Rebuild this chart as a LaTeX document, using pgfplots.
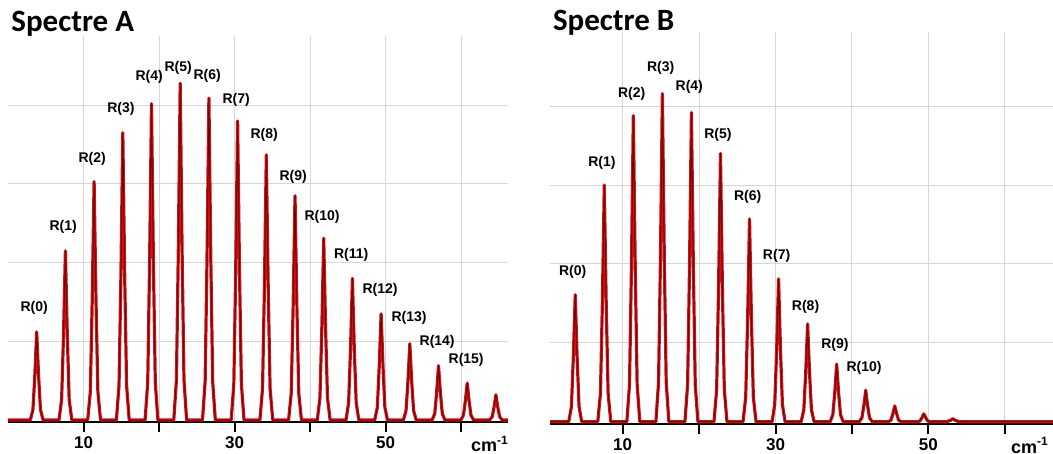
\documentclass[border=0pt]{standalone}
\usepackage{fontspec}
\setmainfont{Liberation Sans}
\newfontfamily\titlefont{Carlito}
\usepackage{pgfplots}
\usepackage{pgfplotstable}
\pgfplotsset{compat=1.18}

\definecolor{specred}{RGB}{205,20,24}
\definecolor{speccore}{RGB}{120,0,0}
\definecolor{gridgray}{RGB}{214,214,214}

% spectre A : x (cm-1), intensite
\pgfplotstableread{
x y
0 0
2.95 0
3.3 0.13
3.55 0.56
3.8 1.12
4.05 0.56
4.3 0.13
4.65 0
6.75 0
7.1 0.26
7.35 1.08
7.6 2.15
7.85 1.08
8.1 0.26
8.45 0
10.55 0
10.9 0.36
11.15 1.52
11.4 3.03
11.65 1.52
11.9 0.36
12.25 0
14.35 0
14.7 0.44
14.95 1.83
15.2 3.65
15.45 1.83
15.7 0.44
16.05 0
18.15 0
18.5 0.48
18.75 2.01
19.0 4.02
19.25 2.01
19.5 0.48
19.85 0
21.95 0
22.3 0.51
22.55 2.14
22.8 4.28
23.05 2.14
23.3 0.51
23.65 0
25.75 0
26.1 0.49
26.35 2.05
26.6 4.09
26.85 2.05
27.1 0.49
27.45 0
29.55 0
29.9 0.46
30.15 1.90
30.4 3.80
30.65 1.90
30.9 0.46
31.25 0
33.35 0
33.7 0.40
33.95 1.69
34.2 3.37
34.45 1.69
34.7 0.40
35.05 0
37.15 0
37.5 0.34
37.75 1.43
38.0 2.85
38.25 1.43
38.5 0.34
38.85 0
40.95 0
41.3 0.28
41.55 1.16
41.8 2.31
42.05 1.16
42.3 0.28
42.65 0
44.75 0
45.1 0.22
45.35 0.90
45.6 1.80
45.85 0.90
46.1 0.22
46.45 0
48.55 0
48.9 0.16
49.15 0.68
49.4 1.35
49.65 0.68
49.9 0.16
50.25 0
52.35 0
52.7 0.12
52.95 0.49
53.2 0.97
53.45 0.49
53.7 0.12
54.05 0
56.15 0
56.5 0.08
56.75 0.35
57.0 0.69
57.25 0.35
57.5 0.08
57.85 0
59.95 0
60.3 0.06
60.55 0.24
60.8 0.47
61.05 0.24
61.3 0.06
61.65 0
63.75 0
64.1 0.04
64.35 0.16
64.6 0.32
64.85 0.16
65.1 0.04
65.45 0
66.2 0
}\specA

\pgfplotstableread{
x y lab
3.47 1.42 R(0)
7.31 2.45 R(1)
11.15 3.32 R(2)
14.95 3.96 R(3)
18.69 4.36 R(4)
22.53 4.47 R(5)
26.37 4.37 R(6)
30.21 4.07 R(7)
33.91 3.62 R(8)
37.75 3.09 R(9)
41.59 2.58 R(10)
45.43 2.10 R(11)
49.27 1.66 R(12)
53.11 1.30 R(13)
56.82 0.99 R(14)
60.66 0.76 R(15)
}\labA

% spectre B
\pgfplotstableread{
x y
0.5 0
2.95 0
3.3 0.19
3.55 0.81
3.8 1.61
4.05 0.81
4.3 0.19
4.65 0
6.75 0
7.1 0.36
7.35 1.50
7.6 3.00
7.85 1.50
8.1 0.36
8.45 0
10.55 0
10.9 0.47
11.15 1.94
11.4 3.88
11.65 1.94
11.9 0.47
12.25 0
14.35 0
14.7 0.50
14.95 2.08
15.2 4.16
15.45 2.08
15.7 0.50
16.05 0
18.15 0
18.5 0.47
18.75 1.96
19.0 3.92
19.25 1.96
19.5 0.47
19.85 0
21.95 0
22.3 0.41
22.55 1.70
22.8 3.40
23.05 1.70
23.3 0.41
23.65 0
25.75 0
26.1 0.31
26.35 1.29
26.6 2.57
26.85 1.29
27.1 0.31
27.45 0
29.55 0
29.9 0.22
30.15 0.91
30.4 1.81
30.65 0.91
30.9 0.22
31.25 0
33.35 0
33.7 0.15
33.95 0.62
34.2 1.24
34.45 0.62
34.7 0.15
35.05 0
37.15 0
37.5 0.09
37.75 0.37
38.0 0.73
38.25 0.37
38.5 0.09
38.85 0
40.95 0
41.3 0.05
41.55 0.20
41.8 0.40
42.05 0.20
42.3 0.05
42.65 0
44.75 0
45.1 0.02
45.35 0.10
45.6 0.20
45.85 0.10
46.1 0.02
46.45 0
48.55 0
48.9 0.01
49.15 0.05
49.4 0.10
49.65 0.05
49.9 0.01
50.25 0
52.35 0
52.95 0.02
53.2 0.04
53.45 0.02
54.05 0
66.3 0
}\specB

\pgfplotstableread{
x y lab
3.47 1.90 R(0)
7.30 3.28 R(1)
11.18 4.15 R(2)
14.98 4.48 R(3)
18.72 4.24 R(4)
22.47 3.63 R(5)
26.35 2.85 R(6)
30.14 2.10 R(7)
33.93 1.46 R(8)
37.77 0.98 R(9)
41.59 0.68 R(10)
}\labB

\pgfplotsset{
  spec/.style={
    scale only axis, anchor=south west,
    axis lines*=left,
    x axis line style={black, line width=1pt, -},
    y axis line style={draw=none},
    xtick={10,20,30,40,50,60},
    xticklabels={10,,30,,50,},
    ytick={1,2,3,4}, yticklabels={},
    ytick style={draw=none},
    xtick style={black, line width=1pt},
    major tick length=5pt, tick align=outside,
    grid=major,
    major grid style={gridgray, line width=0.5pt},
    /pgf/number format/assume math mode=true,
    xticklabel style={font=\bfseries\fontsize{8.5}{10}\selectfont, yshift=1pt},
    clip=false,
  },
  curve/.style={specred, line width=1.6pt, line join=round},
  core/.style={speccore, line width=0.5pt, line join=round},
  labs/.style={draw=none, mark=none, nodes near coords, point meta=explicit symbolic,
    every node near coord/.style={anchor=center, inner sep=0pt,
      font=\bfseries\fontsize{7}{8}\selectfont}},
}

\begin{document}
\begin{tikzpicture}
\path[use as bounding box] (0,0) rectangle (526.5pt,227pt);

\begin{axis}[spec, at={(4pt,16pt)}, width=250pt, height=193pt,
  xmin=0, xmax=66.2, ymin=-0.025, ymax=4.88]
\addplot[curve] table[x=x, y=y] {\specA};
\addplot[core] table[x=x, y=y] {\specA};
\addplot[labs] table[x=x, y=y, meta=lab] {\labA};
\node[font=\bfseries\fontsize{9}{10}\selectfont] at (rel axis cs:0.964,0) [yshift=-11pt] {cm\textsuperscript{-1}};
\end{axis}

\begin{axis}[spec, at={(275pt,15.15pt)}, width=251.5pt, height=195.85pt,
  xmin=0.5, xmax=66.3, ymin=-0.025, ymax=4.94]
\addplot[curve] table[x=x, y=y] {\specB};
\addplot[core] table[x=x, y=y] {\specB};
\addplot[labs] table[x=x, y=y, meta=lab] {\labB};
\node[font=\bfseries\fontsize{9}{10}\selectfont] at (rel axis cs:0.954,0) [yshift=-11pt] {cm\textsuperscript{-1}};
\end{axis}

\node[anchor=base west, inner sep=0pt, font=\titlefont\bfseries\fontsize{15.5}{18}\selectfont] at (5.5pt,211pt) {Spectre A};
\node[anchor=base west, inner sep=0pt, font=\titlefont\bfseries\fontsize{15.5}{18}\selectfont] at (276.3pt,211.5pt) {Spectre B};
\end{tikzpicture}
\end{document}
